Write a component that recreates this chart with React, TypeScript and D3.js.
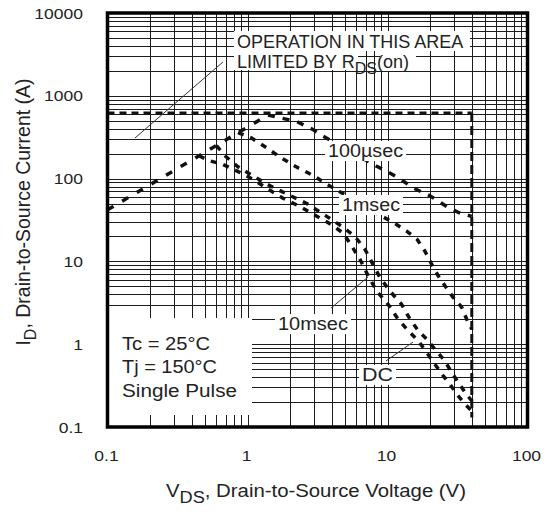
import { useEffect, useRef } from 'react'
import * as d3 from 'd3'

// axis ticks
const xTickValues = [0.1, 1, 10, 100]
const xTickLabels = ['0.1', '1', '10', '100']
const yTickValues = [0.1, 1, 10, 100, 1000, 10000]
const yTickLabels = ['0.1', '1', '10', '100', '1000', '10000']

// [V_DS (V), I_D (A)]
const rdsOnLine: [number, number][] = [[0.1, 42], [1.4, 585]]
const currentLimit: [number, number][] = [[0.1, 620], [40, 620]]
const voltageLimit: [number, number][] = [[40, 620], [40, 0.13]]
const pulse100us: [number, number][] = [
  [1.4, 585], [2.24, 490], [2.95, 389], [3.48, 324], [8.37, 141], [10.4, 117],
  [13, 93], [15.3, 77], [20.1, 62], [26.5, 46], [32.1, 39], [40, 35],
]
const pulse1ms: [number, number][] = [
  [0.855, 358], [1.07, 309], [1.41, 228], [1.75, 177], [2.31, 134], [2.95, 109],
  [3.72, 85], [9.1, 35.2], [11.6, 27.9], [13.7, 23.2], [16.3, 18.4], [18.5, 13.3],
  [20.7, 9.2], [23.1, 6.65], [25.8, 5.04], [29.5, 3.66], [33.9, 2.79], [36.8, 2.0], [40, 1.52],
]
const pulse10ms: [number, number][] = [
  [0.6, 250], [0.7, 185], [0.85, 140], [1.07, 110], [1.37, 86], [1.75, 70], [2.31, 56],
  [2.65, 50], [3.68, 35], [4.71, 26.6], [5.86, 20], [6.9, 14], [8.83, 6.4], [10.4, 4.39],
  [12.6, 3.03], [14.5, 2.0], [16.6, 1.45], [19.1, 1.15], [21.8, 0.87], [25.7, 0.63],
  [28.7, 0.456], [32.1, 0.346], [35.8, 0.262], [40, 0.206],
]
const dcCurve: [number, number][] = [
  [0.45, 189], [0.53, 165], [0.655, 150], [0.837, 124], [1.094, 98], [1.4, 75], [1.79, 58],
  [2.37, 46], [2.88, 38], [3.78, 29.3], [4.83, 22], [5.55, 15.3], [6.36, 10.6], [7.29, 6.65],
  [8.37, 4.39], [10.1, 3.03], [11.9, 2.0], [14.1, 1.45], [16.6, 1.1], [19.1, 0.79],
  [21.8, 0.574], [25, 0.415], [27.9, 0.33], [31.2, 0.25], [35.8, 0.189], [40, 0.156],
]

// curve labels: left/baseline anchor in data units
const curveLabels = [
  { text: '100µsec', v: 3.76, i: 182, width: 75 },
  { text: '1msec', v: 4.73, i: 40.6, width: 58 },
  { text: '10msec', v: 1.65, i: 1.48, width: 70 },
  { text: 'DC', v: 6.58, i: 0.36, width: 31 },
]
// leader lines [from, to]
const leaders: [number, number][][] = [
  [[0.668, 2560], [0.157, 309]],
  [[3.95, 2.73], [7.26, 6.49]],
  [[9.75, 0.627], [15.2, 1.06]],
]
const conditions = ['Tc = 25°C', 'Tj = 150°C', 'Single Pulse']
const conditionWidths = [88, 95, 115]

export default function App() {
  const svgRef = useRef<SVGSVGElement>(null)

  useEffect(() => {
    if (!svgRef.current) return
    const svg = d3.select(svgRef.current)
    svg.selectAll('*').remove()

    const width = 555
    const height = 512
    const plot = { left: 107.5, right: 527.5, top: 13, bottom: 427 }
    const font = '"Liberation Sans", Arial, Helvetica, sans-serif'
    const ink = '#222'

    const x = d3.scaleLog().domain([0.1, 100]).range([plot.left, plot.right])
    const y = d3.scaleLog().domain([0.1, 10000]).range([plot.bottom, plot.top])
    const snap = (v: number) => Math.round(v) + 0.5

    svg.attr('width', width).attr('height', height)
    svg.append('rect').attr('width', width).attr('height', height).attr('fill', '#fff')

    // grid
    const grid = svg.append('g').attr('stroke', '#1c1c1c').attr('stroke-width', 1)
    x.ticks().forEach(t => {
      grid.append('line')
        .attr('x1', snap(x(t))).attr('x2', snap(x(t)))
        .attr('y1', plot.top).attr('y2', plot.bottom)
    })
    y.ticks().forEach(t => {
      grid.append('line')
        .attr('x1', plot.left).attr('x2', plot.right)
        .attr('y1', snap(y(t))).attr('y2', snap(y(t)))
    })

    const text = (
      g: d3.Selection<any, unknown, null, undefined>,
      tx: number, ty: number, size: number, sx: number, anchor = 'start', rotate = 0,
    ) => g.append('text')
      .attr('transform', `translate(${tx},${ty}) scale(${sx},1)${rotate ? ` rotate(${rotate})` : ''}`)
      .attr('font-family', font)
      .attr('font-size', size)
      .attr('text-anchor', anchor)
      .attr('fill', ink)

    // white masks behind annotations
    const masks = svg.append('g').attr('fill', '#fff')
    masks.append('rect').attr('x', 108).attr('y', 318).attr('width', 144).attr('height', 97)
    masks.append('rect').attr('x', 234).attr('y', 31).attr('width', 236).attr('height', 20)
    masks.append('rect').attr('x', 234).attr('y', 51).attr('width', 124).attr('height', 19)
    masks.append('rect').attr('x', 380).attr('y', 51).attr('width', 36).attr('height', 20)

    // curves
    const line = d3.line<[number, number]>().x(d => x(d[0])).y(d => y(d[1]))
    const curves = svg.append('g').attr('fill', 'none').attr('stroke', '#111')
    const drawCurve = (data: [number, number][], dash: string, w: number) => {
      curves.append('path')
        .attr('d', line(data))
        .attr('stroke-width', w)
        .attr('stroke-dasharray', dash)
    }
    drawCurve(currentLimit, '7 5', 3)
    drawCurve(voltageLimit, '9 4', 3)
    drawCurve(rdsOnLine, '7 10', 3.5)
    drawCurve(pulse100us, '7 8', 3.5)
    drawCurve(pulse1ms, '6 7', 3.5)
    drawCurve(pulse10ms, '6 7', 3.5)
    drawCurve(dcCurve, '6 7', 3.5)

    // leader lines
    leaders.forEach(([a, b]) => {
      svg.append('line')
        .attr('x1', x(a[0])).attr('y1', y(a[1]))
        .attr('x2', x(b[0])).attr('y2', y(b[1]))
        .attr('stroke', '#333').attr('stroke-width', 1)
    })

    // curve labels
    curveLabels.forEach(l => {
      const lx = x(l.v)
      const ly = y(l.i)
      svg.append('rect')
        .attr('x', lx - 3).attr('y', ly - 16)
        .attr('width', l.width + 6).attr('height', 20)
        .attr('fill', '#fff')
      text(svg, lx, ly, 18, 1, 'start')
        .attr('textLength', l.width).attr('lengthAdjust', 'spacingAndGlyphs')
        .text(l.text)
    })

    // RDS(on) annotation
    const ax = x(0.841)
    text(svg, ax, y(3777), 18, 1).text('OPERATION IN THIS AREA')
    const a2 = text(svg, ax, y(2166), 18, 1)
    a2.append('tspan').text('LIMITED BY R')
    a2.append('tspan').attr('font-size', 16).attr('dy', 6).text('DS')
    a2.append('tspan').attr('dy', -6).text('(on)')

    // test conditions
    conditions.forEach((c, k) => {
      text(svg, 122, 350 + k * 23.4, 18, 1)
        .attr('textLength', conditionWidths[k]).attr('lengthAdjust', 'spacingAndGlyphs')
        .text(c)
    })

    // frame
    svg.append('rect')
      .attr('x', plot.left).attr('y', plot.top)
      .attr('width', plot.right - plot.left).attr('height', plot.bottom - plot.top)
      .attr('fill', 'none').attr('stroke', '#000').attr('stroke-width', 3.5)

    // tick labels
    xTickValues.forEach((t, k) => {
      text(svg, x(t) - 1, 461, 15.5, 1.13, 'middle').text(xTickLabels[k])
    })
    yTickValues.forEach((t, k) => {
      text(svg, 83, y(t) + 5.5, 15.5, 1.13, 'end').text(yTickLabels[k])
    })

    // axis titles
    const xt = text(svg, 316, 497, 18.5, 1.1, 'middle')
    xt.append('tspan').text('V')
    xt.append('tspan').attr('font-size', 16.5).attr('dy', 6).text('DS')
    xt.append('tspan').attr('dy', -6).text(', Drain-to-Source Voltage (V)')

    const yt = text(svg, 30, 212, 19.5, 1.05, 'middle', -90)
    yt.append('tspan').text('I')
    yt.append('tspan').attr('font-size', 16).attr('dy', 6).text('D')
    yt.append('tspan').attr('dy', -6).text(', Drain-to-Source Current (A)')
  }, [])

  return (
    <svg
      ref={svgRef}
      style={{ position: 'absolute', left: 0, top: 0, display: 'block' }}
    />
  )
}
